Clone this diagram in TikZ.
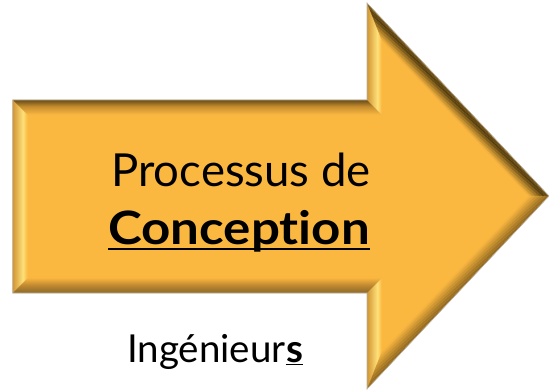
\documentclass[tikz,border=0pt]{standalone}
\usepackage{fontspec}
\setmainfont{Lato}[Ligatures={NoCommon}]
\definecolor{face}{HTML}{FBB841}
\definecolor{topA}{HTML}{5E4514}
\definecolor{topB}{HTML}{C48C2E}
\definecolor{sideA}{HTML}{CF9130}
\definecolor{hilite}{HTML}{FFE27A}
\definecolor{diaA}{HTML}{7A5A20}
\definecolor{diaB}{HTML}{4F3A0E}
\definecolor{lowA}{HTML}{8C6420}
\definecolor{lowB}{HTML}{A87A28}
\definecolor{botA}{HTML}{8E6A2A}
\definecolor{botB}{HTML}{C08A30}
\definecolor{rim}{HTML}{BDB5A8}

% three-stop colour ramp: #1 at 0, #2 at #4, #3 at 1; sampled at #5
\newcommand{\bandcolor}[5]{%
  \pgfmathsetmacro\bcf{#5}%
  \pgfmathsetmacro\bcm{#4}%
  \ifdim\bcf pt<\bcm pt
    \pgfmathtruncatemacro\bcp{100*\bcf/\bcm}%
    \colorlet{bandc}{#2!\bcp!#1}%
  \else
    \pgfmathtruncatemacro\bcp{100*(\bcf-\bcm)/(1-\bcm)}%
    \colorlet{bandc}{#3!\bcp!#2}%
  \fi}

\tikzset{
  title/.style={inner sep=0pt, font=\fontsize{45.5}{50}\selectfont},
  caption/.style={inner sep=0pt, font=\fontsize{38.5}{44}\selectfont},
  uline/.style={line width=1.8pt, black}
}

\begin{document}
\begin{tikzpicture}[x=1pt,y=-1pt]
\useasboundingbox[fill=white] (0,0) rectangle (549,390);
\clip (0,0) rectangle (549,390);

% arrow body
\fill[face] (12.7,100) -- (367,100) -- (367,3) -- (549,196) -- (367,389)
  -- (367,293) -- (12.7,293) -- cycle;

% bevel, drawn as thin bands from the rim inwards
\foreach \k in {0,...,14}{
  \pgfmathsetmacro\sa{\k}
  \pgfmathsetmacro\sb{\k+1.08}
  \pgfmathsetmacro\ff{(\k+0.5)/15}
  % top of shaft
  \bandcolor{topA}{topB}{face}{0.45}{\ff}
  \fill[bandc] ({12.7+\sa},{100+\sa}) -- ({367+\sa},{100+\sa})
    -- ({367+\sb},{100+\sb}) -- ({12.7+\sb},{100+\sb}) -- cycle;
  % bottom of shaft
  \bandcolor{botA}{botB}{face}{0.5}{\ff}
  \fill[bandc] ({367+\sa},{293-\sa}) -- ({12.7+\sa},{293-\sa})
    -- ({12.7+\sb},{293-\sb}) -- ({367+\sb},{293-\sb}) -- cycle;
  % left end and the two back edges of the head
  \bandcolor{sideA}{hilite}{face}{0.72}{\ff}
  \fill[bandc] ({12.7+\sa},{293-\sa}) -- ({12.7+\sa},{100+\sa})
    -- ({12.7+\sb},{100+\sb}) -- ({12.7+\sb},{293-\sb}) -- cycle;
  \fill[bandc] ({367+\sa},{100+\sa}) -- ({367+\sa},{3+2.518*\sa})
    -- ({367+\sb},{3+2.518*\sb}) -- ({367+\sb},{100+\sb}) -- cycle;
  \fill[bandc] ({367+\sa},{389-2.518*\sa}) -- ({367+\sa},{293-\sa})
    -- ({367+\sb},{293-\sb}) -- ({367+\sb},{389-2.518*\sb}) -- cycle;
  % upper slanted edge of the head
  \bandcolor{diaA}{diaB}{face}{0.25}{\ff}
  \fill[bandc] ({367+\sa},{3+2.518*\sa}) -- ({549-1.3746*\sa},196)
    -- ({549-1.3746*\sb},196) -- ({367+\sb},{3+2.518*\sb}) -- cycle;
  % lower slanted edge of the head
  \bandcolor{lowA}{lowB}{face}{0.3}{\ff}
  \fill[bandc] ({549-1.3746*\sa},196) -- ({367+\sa},{389-2.518*\sa})
    -- ({367+\sb},{389-2.518*\sb}) -- ({549-1.3746*\sb},196) -- cycle;
}

% thin rim
\draw[rim, line width=0.6pt] (12.7,100) -- (367,100) -- (367,3) -- (549,196)
  -- (367,389) -- (367,293) -- (12.7,293) -- cycle;

% labels
\node[title, anchor=base] (proc) at (241,187) {Processus de};
\node[title, anchor=base, font=\fontsize{46}{50}\selectfont\bfseries] (conc) at (239,244)
  {\scalebox{1.11}[1]{Conception}};
\draw[uline] ([yshift=-5pt]conc.base west) -- ([yshift=-5pt]conc.base east);

\node[caption, anchor=base west] (ing) at (127,362) {Ingénieur};
\node[caption, anchor=base west, font=\fontsize{38.5}{44}\selectfont\bfseries] (ings) at (ing.base east) {s};
\draw[uline, line width=1.6pt] ([yshift=-2.5pt]ings.base west) -- ([yshift=-2.5pt]ings.base east);
\end{tikzpicture}
\end{document}
